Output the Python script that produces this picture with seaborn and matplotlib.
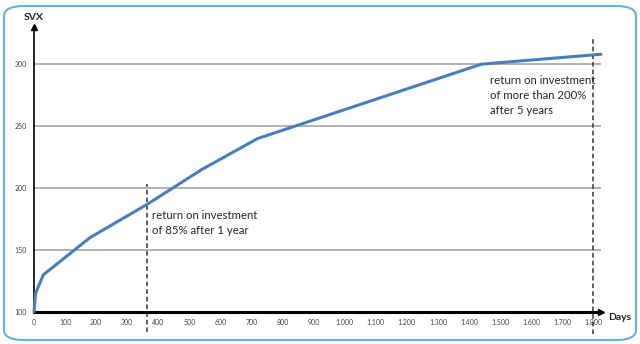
import matplotlib
matplotlib.use("Agg")
import matplotlib.pyplot as plt
from matplotlib.patches import FancyBboxPatch
import seaborn as sns
import pandas as pd

days = [0, 5, 30, 180, 365, 540, 720, 1080, 1440, 1825]
svx = [100, 115, 130, 160, 187, 215, 240, 270, 300, 308]
x_ticks = list(range(0, 1900, 100))
x_tick_labels = [f"{v:,}".replace(",", ".") for v in x_ticks]
y_ticks = [100, 150, 200, 250, 300]
y_tick_labels = [str(v) for v in y_ticks]
markers_days = [365, 1800]
notes = ["return on investment\nof 85% after 1 year",
         "return on investment\nof more than 200%\nafter 5 years"]

sns.set_style("white")
plt.rcParams['font.family'] = ['Lato', 'DejaVu Sans']

fig = plt.figure(figsize=(6.4, 3.44), dpi=100)
border = FancyBboxPatch((4/640, 4/344), 632/640, 334/344,
                        boxstyle="round,pad=0,rounding_size=0.03",
                        transform=fig.transFigure, facecolor="none",
                        edgecolor="#6aaee0", linewidth=1.5, zorder=10)
fig.patches.append(border)

ax = fig.add_axes([34/640, 1 - 312/344, 567/640, 285/344])
ax.set_facecolor("none")
df = pd.DataFrame({"Days": days, "SVX": svx})

ax.set_xlim(0, 1825)
ax.set_ylim(100, 330)

for yv in y_ticks[1:]:
    ax.axhline(yv, color="#a6a6a6", lw=1.2, zorder=1)

sns.lineplot(data=df, x="Days", y="SVX", ax=ax, color="#4a7ebb", lw=2.2,
             zorder=3, clip_on=False)

# dashed markers
ax.plot([markers_days[0]] * 2, [84, 203], ls=(0, (3, 2)), color="#333333",
        lw=1.1, clip_on=False, zorder=2)
ax.plot([markers_days[1]] * 2, [82, 322], ls=(0, (3, 2)), color="#333333",
        lw=1.1, clip_on=False, zorder=2)

ax.text(380, 182, notes[0], fontsize=8.2, color="#262626", va="top",
        ha="left", linespacing=1.45)
ax.text(1468, 291, notes[1], fontsize=8.2, color="#262626", va="top",
        ha="left", linespacing=1.45)

for s in ["top", "right"]:
    ax.spines[s].set_visible(False)
ax.spines["left"].set_linewidth(1.2)
ax.spines["bottom"].set_linewidth(2.2)
ax.spines["left"].set_color("black")
ax.spines["bottom"].set_color("black")
ax.plot([1825], [100], marker=">", color="black", ms=5, clip_on=False, zorder=5)
ax.plot([0], [330], marker="^", color="black", ms=4, clip_on=False, zorder=5)

ax.set_xticks(x_ticks)
ax.set_xticklabels(x_tick_labels)
ax.set_yticks(y_ticks)
ax.set_yticklabels(y_tick_labels)
ax.tick_params(axis="both", length=0, labelsize=5, colors="#444444", pad=5)
ax.set_xlabel("")
ax.set_ylabel("")

fig.text(34/640, 1 - 17/344, "SVX", fontsize=7.5, fontweight="bold",
         ha="center", va="center")
fig.text(620/640, 1 - 317/344, "Days", fontsize=7.5, fontweight="bold",
         ha="center", va="center")

fig.savefig("out.png", dpi=100)
